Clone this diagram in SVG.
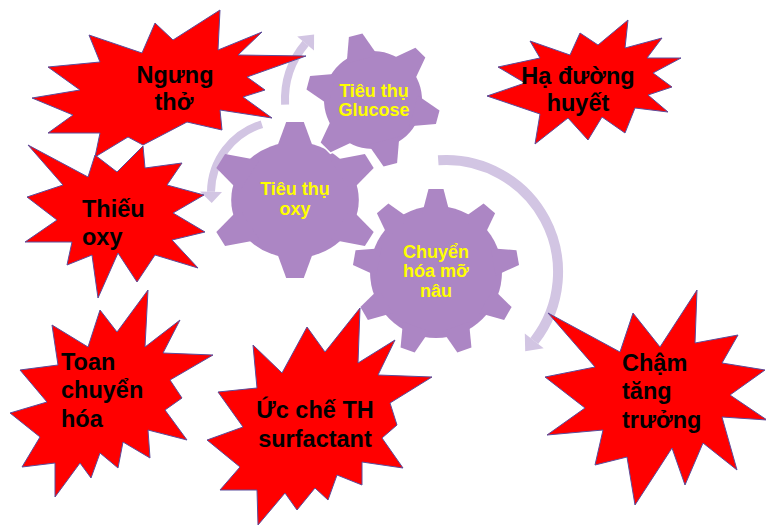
<svg xmlns="http://www.w3.org/2000/svg" xmlns:xlink="http://www.w3.org/1999/xlink" width="766" height="526" viewBox="0 0 766 526">
<style>
.gear{fill:#AC86C4}
.halo{fill:#FFFFFF;stroke:#FFFFFF;stroke-width:3}
.arc{fill:none;stroke:#D2C5E3;stroke-linecap:butt}
.head{fill:#D2C5E3}
.star{fill:#FF0000;stroke:#5B4C9B;stroke-width:1;stroke-linejoin:miter}
.gt{font-family:"Liberation Sans",Arial,sans-serif;font-weight:bold;font-size:18px;fill:#FFFF00;text-anchor:middle}
.st{font-family:"Liberation Sans",Arial,sans-serif;font-weight:bold;font-size:23.5px;fill:#000000}
.mid{text-anchor:middle}
</style>
<defs>
<polygon id="toothA" points="-8,-78 8,-78 18,-48 -18,-48"/>
<polygon id="toothB" points="-7,-67 7,-67 16,-42 -16,-42"/>
<polygon id="toothC" points="-7.5,-83 7.5,-83 14,-58 -14,-58"/>
<g id="gearOxy">
<circle r="58"/>
<use href="#toothA"/><use href="#toothA" transform="rotate(60)"/><use href="#toothA" transform="rotate(120)"/>
<use href="#toothA" transform="rotate(180)"/><use href="#toothA" transform="rotate(240)"/><use href="#toothA" transform="rotate(300)"/>
</g>
<g id="gearGlu">
<circle r="49"/>
<use href="#toothB"/><use href="#toothB" transform="rotate(60)"/><use href="#toothB" transform="rotate(120)"/>
<use href="#toothB" transform="rotate(180)"/><use href="#toothB" transform="rotate(240)"/><use href="#toothB" transform="rotate(300)"/>
</g>
<g id="gearFat">
<circle r="66"/>
<use href="#toothC"/><use href="#toothC" transform="rotate(40)"/><use href="#toothC" transform="rotate(80)"/>
<use href="#toothC" transform="rotate(120)"/><use href="#toothC" transform="rotate(160)"/><use href="#toothC" transform="rotate(200)"/>
<use href="#toothC" transform="rotate(240)"/><use href="#toothC" transform="rotate(280)"/><use href="#toothC" transform="rotate(320)"/>
</g>
</defs>

<g id="connectors">
<path class="arc" stroke-width="8" d="M285.1,104.6 A88,88 0 0 1 305.6,43.4"/>
<polygon class="head" points="297.2,36.4 314.1,34.6 314,50.5"/>
<path class="arc" stroke-width="8" d="M261.9,124.2 A72,72 0 0 0 211,191.7"/>
<polygon class="head" points="200,191.6 222,191.9 211.7,203"/>
<path class="arc" stroke-width="10" d="M438.2,160.3 A112,112 0 0 1 534.3,341"/>
<polygon class="head" points="543.7,348.3 524.8,333.6 525.2,351.2"/>
</g>

<g id="gear-fat">
<use href="#gearFat" class="gear" transform="translate(436,272)"/>
<text class="gt" x="436" y="258">Chuyển</text>
<text class="gt" x="436" y="277">hóa mỡ</text>
<text class="gt" x="436" y="297">nâu</text>
</g>

<g id="gear-oxy">
<use href="#gearOxy" class="gear" transform="translate(295,200) scale(1.1,1)"/>
<text class="gt" x="295" y="195">Tiêu thụ</text>
<text class="gt" x="295" y="215">oxy</text>
</g>

<g id="gear-glucose">
<use href="#gearGlu" class="halo" transform="translate(373,100) rotate(-15)"/>
<use href="#gearGlu" class="gear" transform="translate(373,100) rotate(-15)"/>
<text class="gt" x="374" y="97">Tiêu thụ</text>
<text class="gt" x="374" y="116">Glucose</text>
</g>

<g id="star-ngung-tho">
<polygon class="star" points="220,10 218,50 262,32 238,55 306,56 247,77 265,90 243,97 272,118 220,110 222,130 187,122 143,145 128,137 95,157 100,133 48,133 73,115 32,98 80,90 48,67 100,62 89,35 142,53 155,23 173,40"/>
<text class="st mid" x="175" y="83">Ngưng</text>
<text class="st mid" x="174" y="110">thở</text>
</g>

<g id="star-thieu-oxy">
<polygon class="star" points="28,145 88,177 95,155 117,172 143,146 145,168 182,163 167,185 204,195 173,213 205,232 172,240 198,268 155,255 137,282 118,253 98,298 92,255 67,265 72,242 25,242 57,220 27,197 63,185"/>
<text class="st" x="82" y="217">Thiếu</text>
<text class="st" x="82" y="245">oxy</text>
</g>

<g id="star-ha-duong-huyet">
<polygon class="star" points="628,20 625,48 662,38 647,58 681,58 653,73 672,87 648,95 668,112 635,108 625,133 602,117 588,140 568,118 535,144 540,114 487,96 525,83 498,67 540,58 530,41 570,55 580,33 598,45"/>
<text class="st mid" x="578" y="84">Hạ đường</text>
<text class="st mid" x="578" y="111">huyết</text>
</g>

<g id="star-toan">
<polygon class="star" points="148,290 145,347 180,320 163,353 213,355 170,380 182,398 165,410 187,440 148,430 150,458 123,442 118,468 100,453 91,478 80,463 55,497 55,463 22,467 40,437 10,413 47,402 20,370 58,365 52,325 88,347 100,310 117,332"/>
<text class="st" x="61" y="370">Toan</text>
<text class="st" x="61" y="398">chuyển</text>
<text class="st" x="61" y="427">hóa</text>
</g>

<g id="star-uc-che">
<polygon class="star" points="360,308 358,363 395,340 378,375 432,377 390,403 397,425 382,438 403,468 362,462 362,485 337,475 328,500 315,488 297,510 285,493 258,525 257,490 220,490 240,467 207,440 243,427 218,392 257,388 253,345 282,373 307,327 325,352"/>
<text class="st mid" x="315" y="418">Ức chế TH</text>
<text class="st mid" x="315" y="447">surfactant</text>
</g>

<g id="star-cham">
<polygon class="star" points="697,290 695,343 738,335 722,363 765,370 730,395 767,420 722,417 737,470 703,443 685,485 672,448 635,505 627,457 595,465 603,430 547,435 585,408 545,377 595,367 548,313 620,352 633,313 660,347"/>
<text class="st" x="622" y="371">Chậm</text>
<text class="st" x="622" y="399">tăng</text>
<text class="st" x="622" y="428">trưởng</text>
</g>
</svg>
